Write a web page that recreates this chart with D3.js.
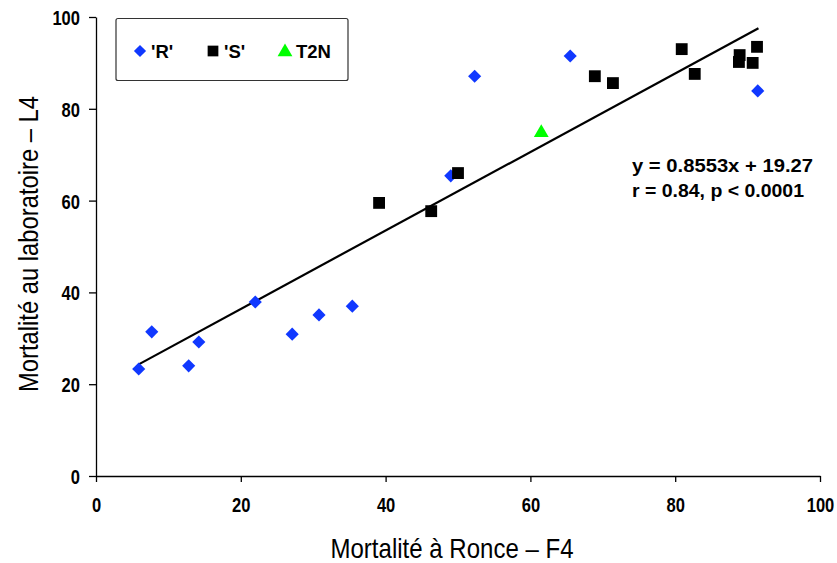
<!DOCTYPE html>
<html>
<head>
<meta charset="utf-8">
<script src="https://cdn.jsdelivr.net/npm/d3@7"></script>
<style>
  body { margin: 0; background: #fff; }
  svg { display: block; font-family: Arial, "Liberation Sans", sans-serif; }
  .tick text { font-weight: bold; font-size: 21px; fill: #000; }
  .label { font-size: 28px; fill: #000; }
</style>
</head>
<body>
<svg width="837" height="563"></svg>
<script>
// 'R' series (x = F4, y = L4)
const rX = [5.9, 7.7, 12.8, 14.2, 22.0, 27.1, 30.8, 35.4, 49.0, 52.3, 65.5, 91.4];
const rY = [23.3, 31.4, 24.0, 29.2, 37.9, 30.9, 35.1, 37.0, 65.4, 87.1, 91.5, 83.9];
// 'S' series
const sX = [39.1, 46.3, 50.0, 68.9, 71.4, 80.9, 82.7, 88.9, 88.8, 90.7, 91.3];
const sY = [59.5, 57.7, 66.0, 87.1, 85.6, 93.0, 87.6, 91.7, 90.2, 90.0, 93.5];
// T2N
const tX = [61.5];
const tY = [75.0];
// regression
const slope = 0.8553;
const intercept = 19.27;
const fitRange = [5.9, 91.5];
const ticks = [0, 20, 40, 60, 80, 100];
const legendNames = ["'R'", "'S'", "T2N"];
const eqLines = ["y = 0.8553x + 19.27", "r = 0.84, p < 0.0001"];

const margin = { top: 17, left: 96, right: 17, bottom: 87 };
const width = 820 - margin.left;
const height = 476 - margin.top;

const svg = d3.select('svg');
const g = svg.append('g')
  .attr('transform', `translate(${margin.left}, ${margin.top})`);

const x = d3.scaleLinear().domain([0, 100]).range([0, width]);
const y = d3.scaleLinear().domain([0, 100]).range([height, 0]);

// axes
const xAxis = g.append('g')
  .attr('transform', `translate(0, ${height})`)
  .call(d3.axisBottom(x).tickValues(ticks).tickSize(6).tickSizeOuter(0));
const yAxis = g.append('g')
  .call(d3.axisLeft(y).tickValues(ticks).tickSize(7).tickSizeOuter(0));
[xAxis, yAxis].forEach(a => {
  a.select('.domain').attr('stroke', '#000').attr('stroke-width', 1.3);
  a.selectAll('.tick line').attr('stroke', '#000').attr('stroke-width', 1.3);
  a.attr('font-family', null).attr('font-size', null);
  // condensed look of the original tick font
  a.selectAll('.tick text')
    .attr('textLength', d => String(d).length * 9.2)
    .attr('lengthAdjust', 'spacingAndGlyphs');
});
xAxis.selectAll('.tick text').attr('dy', null).attr('y', 36);
yAxis.selectAll('.tick text').attr('x', -16).attr('dy', '0.36em');

// axis titles
svg.append('text')
  .attr('class', 'label')
  .attr('x', 452)
  .attr('y', 558)
  .attr('text-anchor', 'middle')
  .attr('textLength', 243)
  .attr('lengthAdjust', 'spacingAndGlyphs')
  .text('Mortalité à Ronce – F4');

svg.append('text')
  .attr('class', 'label')
  .attr('transform', 'translate(38, 244) rotate(-90)')
  .attr('text-anchor', 'middle')
  .attr('textLength', 296)
  .attr('lengthAdjust', 'spacingAndGlyphs')
  .text('Mortalité au laboratoire – L4');

// trend line
g.append('line')
  .attr('x1', x(fitRange[0]))
  .attr('y1', y(slope * fitRange[0] + intercept))
  .attr('x2', x(fitRange[1]))
  .attr('y2', y(slope * fitRange[1] + intercept))
  .attr('stroke', '#000')
  .attr('stroke-width', 2.2);

const blue = '#1038ff';
const green = '#00ff00';
const diamond = d3.symbol().type(d3.symbolDiamond2).size(110);
const square = d3.symbol().type(d3.symbolSquare).size(140);
const triangle = d3.symbol().type(d3.symbolTriangle).size(95);

// points
g.selectAll('.r')
  .data(rX.map((v, i) => [v, rY[i]]))
  .enter()
  .append('path')
  .attr('class', 'r')
  .attr('d', diamond)
  .attr('fill', blue)
  .attr('transform', d => `translate(${x(d[0])}, ${y(d[1])})`);

g.selectAll('.s')
  .data(sX.map((v, i) => [v, sY[i]]))
  .enter()
  .append('path')
  .attr('class', 's')
  .attr('d', square)
  .attr('fill', '#000')
  .attr('transform', d => `translate(${x(d[0])}, ${y(d[1])})`);

g.selectAll('.t')
  .data(tX.map((v, i) => [v, tY[i]]))
  .enter()
  .append('path')
  .attr('class', 't')
  .attr('d', triangle)
  .attr('fill', green)
  .attr('transform', d => `translate(${x(d[0])}, ${y(d[1]) + 1})`);

// equation
const eqWidths = [181, 172];
svg.selectAll('.eq')
  .data(eqLines)
  .enter()
  .append('text')
  .attr('class', 'eq')
  .attr('x', 632)
  .attr('y', (d, i) => 172 + i * 25)
  .attr('font-weight', 'bold')
  .attr('font-size', 18.5)
  .attr('textLength', (d, i) => eqWidths[i])
  .attr('lengthAdjust', 'spacingAndGlyphs')
  .text(d => d);

// legend
const legend = svg.append('g');
legend.append('rect')
  .attr('x', 116).attr('y', 18.5)
  .attr('width', 232).attr('height', 62)
  .attr('rx', 2)
  .attr('fill', '#fff')
  .attr('stroke', '#333')
  .attr('stroke-width', 1.2);

const legendX = [140, 213, 285];
const legendSyms = [
  { d: d3.symbol().type(d3.symbolDiamond2).size(95)(), fill: blue },
  { d: d3.symbol().type(d3.symbolSquare).size(115)(), fill: '#000' },
  { d: d3.symbol().type(d3.symbolTriangle).size(95)(), fill: green }
];
legendNames.forEach((name, i) => {
  legend.append('path')
    .attr('d', legendSyms[i].d)
    .attr('fill', legendSyms[i].fill)
    .attr('transform', `translate(${legendX[i]}, ${i === 2 ? 52 : 51})`);
  legend.append('text')
    .attr('x', legendX[i] + 11)
    .attr('y', 57.5)
    .attr('font-weight', 'bold')
    .attr('font-size', 18.5)
    .text(name);
});
</script>
</body>
</html>
